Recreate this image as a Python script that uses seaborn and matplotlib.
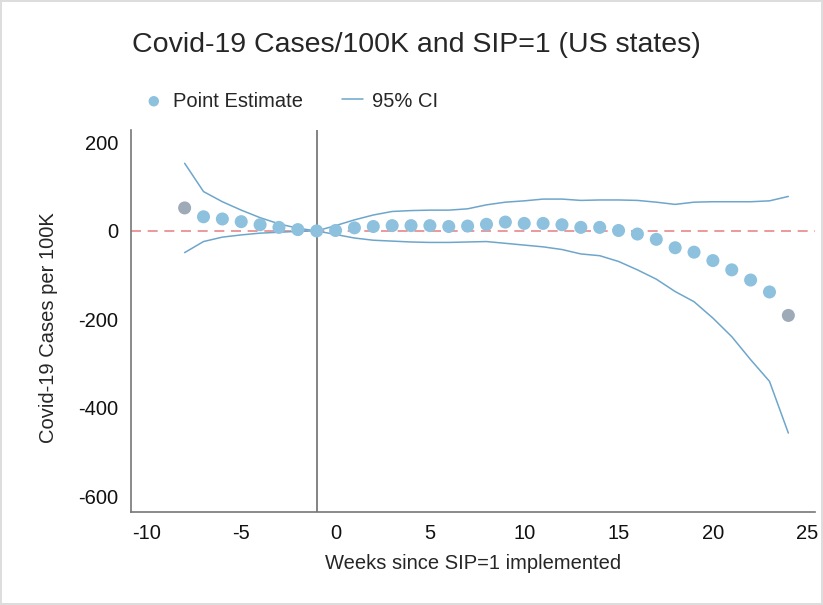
import matplotlib
matplotlib.use("Agg")
import matplotlib.pyplot as plt
import seaborn as sns

# weeks relative to SIP=1 (reference week is -1)
weeks = [-8, -7, -6, -5, -4, -3, -2, -1, 0, 1, 2, 3, 4, 5, 6, 7, 8,
         9, 10, 11, 12, 13, 14, 15, 16, 17, 18, 19, 20, 21, 22, 23, 24]

point_est = [52, 32, 27, 21, 14, 8, 3, 0, 1, 7, 10, 12, 12, 12, 10, 11, 15,
             20, 17, 17, 14, 8, 8, 1, -7, -19, -38, -48, -67, -88, -111, -138, -191]

ci_upper = [153, 89, 66, 47, 30, 16, 6, 0, 12, 25, 36, 44, 46, 47, 47, 50, 59,
            65, 68, 72, 72, 69, 70, 70, 69, 65, 60, 65, 66, 66, 66, 68, 78]

ci_lower = [-49, -24, -14, -9, -5, -3, -1, 0, -8, -16, -21, -23, -25, -26, -26, -25, -24,
            -28, -32, -36, -42, -52, -56, -69, -88, -109, -137, -160, -197, -239, -291, -340, -457]

x_ticks = [-10, -5, 0, 5, 10, 15, 20, 25]
y_ticks = [200, 0, -200, -400, -600]

sns.set_style("white")
plt.rcParams['font.family'] = ['Liberation Sans', 'DejaVu Sans']
plt.rcParams['axes.unicode_minus'] = False

point_color = '#8dc1de'
end_color = '#9eaab8'
line_color = '#6ea6cb'
fs = 14.5

fig = plt.figure(figsize=(8.23, 6.05), dpi=100)
ax = fig.add_axes([0.159, 0.154, 0.831, 0.631])

ax.axhline(0, color='#e8878b', linestyle=(0, (6, 4)), linewidth=1.2, zorder=1)
ax.axvline(-1, color='#6e6e6e', linewidth=1.2, zorder=1)

sns.lineplot(x=weeks, y=ci_upper, color=line_color, linewidth=1.1, label='95% CI', ax=ax, zorder=2)
sns.lineplot(x=weeks, y=ci_lower, color=line_color, linewidth=1.1, legend=False, ax=ax, zorder=2)
sns.scatterplot(x=weeks, y=point_est, color=point_color, s=88, edgecolor='none',
                label='Point Estimate', ax=ax, zorder=3)
pt_colors = [point_color] * len(weeks)
pt_colors[0] = end_color
pt_colors[-1] = end_color
ax.collections[-1].set_facecolors(pt_colors)

ax.set_xlim(-10.85, 25.4)
ax.set_ylim(-635, 228)
ax.set_xticks(x_ticks)
ax.set_yticks(y_ticks)
ax.tick_params(axis='both', length=0, labelsize=fs, pad=9, colors='#111111')
for s in ['top', 'right']:
    ax.spines[s].set_visible(False)
for s in ['left', 'bottom']:
    ax.spines[s].set_color('#777777')
    ax.spines[s].set_linewidth(1.2)

ax.set_xlabel('Weeks since SIP=1 implemented', fontsize=fs, labelpad=8)
ax.set_ylabel('Covid-19 Cases per 100K', fontsize=fs)
ax.yaxis.set_label_coords(-0.107, 0.482)

handles, labels = ax.get_legend_handles_labels()
order = [labels.index('Point Estimate'), labels.index('95% CI')]
ax.get_legend().remove()
leg = fig.legend([handles[i] for i in order], [labels[i] for i in order],
                 loc='center left', bbox_to_anchor=(0.152, 0.833), ncol=2, frameon=False,
                 fontsize=fs, handlelength=1.05, columnspacing=1.95, handletextpad=0.42,
                 markerscale=0.8)
leg.legend_handles[0].set_facecolor(point_color)

fig.text(0.506, 0.926, 'Covid-19 Cases/100K and SIP=1 (US states)', ha='center',
         va='center', fontsize=20.5)

fig.patch.set_edgecolor('#dddddd')
fig.patch.set_linewidth(1.5)

fig.savefig('out.png', dpi=100)
